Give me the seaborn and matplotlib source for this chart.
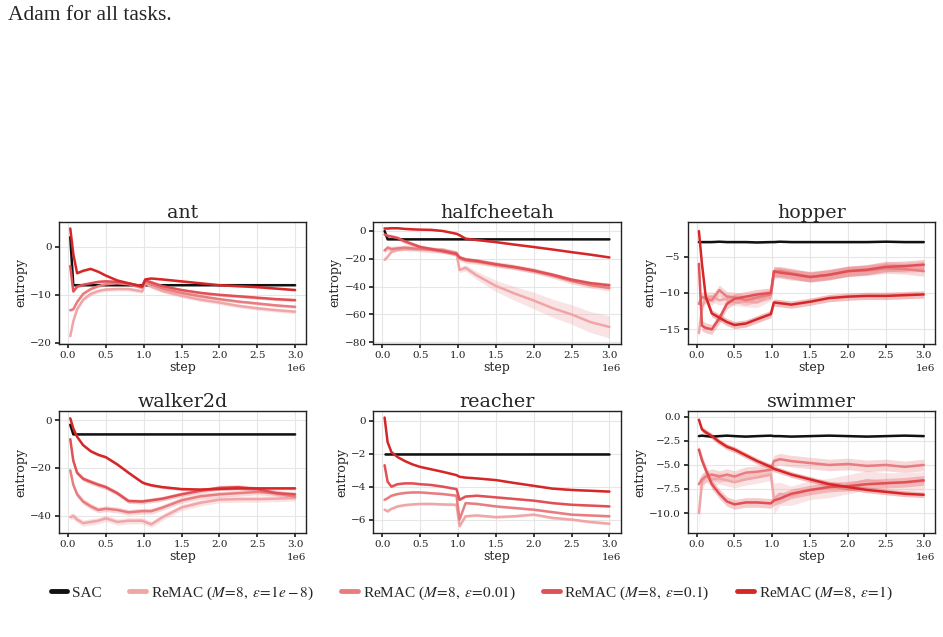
import pandas as pd
import matplotlib.pyplot as plt
import seaborn as sns
from matplotlib.lines import Line2D
from matplotlib.ticker import MultipleLocator

# ==========================================
# Data (steps in millions)
# ==========================================

steps_m = [0.03, 0.07, 0.12, 0.2, 0.3, 0.4, 0.5, 0.65, 0.8, 0.98,
           1.02, 1.1, 1.25, 1.5, 1.75, 2.0, 2.25, 2.5, 2.75, 3.0]

tasks = ["ant", "halfcheetah", "hopper", "walker2d", "reacher", "swimmer"]

methods = ["SAC", "eps=1e-8", "eps=0.01", "eps=0.1", "eps=1"]

legend_labels = [
    "SAC",
    r"ReMAC ($M\!=\!8,\ \varepsilon\!=\!1e-8$)",
    r"ReMAC ($M\!=\!8,\ \varepsilon\!=\!0.01$)",
    r"ReMAC ($M\!=\!8,\ \varepsilon\!=\!0.1$)",
    r"ReMAC ($M\!=\!8,\ \varepsilon\!=\!1$)",
]

# ant
ant_sac = [2.0, -8.0, -8.0, -8.0, -8.0, -8.0, -8.0, -8.0, -8.0, -8.0,
           -8.0, -8.0, -8.0, -8.0, -8.0, -8.0, -8.0, -8.0, -8.0, -8.0]
ant_e1e8 = [-18.6, -15.5, -13.0, -11.0, -9.8, -9.2, -8.9, -8.8, -8.8, -9.3,
            -7.6, -8.3, -9.2, -10.2, -11.0, -11.6, -12.3, -12.8, -13.2, -13.5]
ant_e001 = [-13.2, -13.0, -11.5, -9.8, -8.8, -8.2, -7.8, -7.6, -7.8, -8.5,
            -7.3, -7.8, -8.7, -9.6, -10.3, -10.9, -11.4, -11.8, -12.2, -12.5]
ant_e01 = [-4.0, -9.3, -8.3, -7.9, -7.6, -7.3, -7.2, -7.3, -7.6, -8.2,
           -7.0, -7.4, -8.2, -9.0, -9.6, -10.0, -10.3, -10.6, -10.9, -11.1]
ant_e1 = [3.8, -1.5, -5.5, -5.0, -4.6, -5.2, -6.0, -7.0, -7.6, -8.3,
          -6.8, -6.6, -6.8, -7.2, -7.6, -8.0, -8.2, -8.4, -8.7, -9.0]

# halfcheetah
hc_sac = [0.0, -6.0, -6.0, -6.0, -6.0, -6.0, -6.0, -6.0, -6.0, -6.0,
          -6.0, -6.0, -6.0, -6.0, -6.0, -6.0, -6.0, -6.0, -6.0, -6.0]
hc_e1e8 = [-20.7, -18.5, -15.0, -13.5, -13.0, -13.0, -13.0, -13.0, -13.5, -16.0,
           -28.0, -26.5, -32.0, -39.5, -45.0, -50.0, -55.5, -60.0, -65.5, -69.0]
hc_e001 = [-14.0, -12.0, -13.0, -12.5, -12.0, -12.5, -13.0, -13.5, -14.0, -16.0,
           -19.5, -21.0, -22.0, -24.0, -26.0, -28.5, -32.0, -36.0, -39.0, -41.0]
hc_e01 = [-2.5, -3.5, -4.0, -5.0, -7.5, -9.5, -11.5, -13.0, -14.5, -16.5,
          -19.0, -20.5, -21.5, -24.0, -26.0, -28.5, -31.5, -35.0, -37.5, -39.0]
hc_e1 = [1.8, 1.8, 2.0, 2.0, 1.5, 1.2, 1.0, 0.8, 0.0, -2.0,
         -3.0, -5.5, -6.5, -8.0, -9.8, -11.5, -13.3, -15.2, -17.0, -19.0]

# hopper
hop_sac = [-3.0, -3.0, -3.0, -3.0, -2.95, -3.0, -3.0, -3.0, -3.05, -3.0,
           -3.0, -2.95, -3.0, -3.0, -3.0, -3.0, -3.0, -2.95, -3.0, -3.0]
hop_e1e8 = [-15.5, -12.0, -10.6, -10.5, -11.0, -10.8, -11.0, -11.2, -11.3, -10.4,
            -7.4, -7.2, -7.6, -7.7, -7.4, -7.1, -6.8, -6.3, -6.5, -6.3]
hop_e001 = [-11.5, -10.5, -10.8, -11.0, -9.6, -10.5, -10.6, -11.0, -10.6, -10.2,
            -7.2, -7.0, -7.3, -7.8, -7.5, -7.0, -6.9, -6.6, -6.7, -7.0]
hop_e01 = [-6.0, -14.5, -14.8, -15.0, -13.5, -11.5, -10.8, -10.5, -10.2, -10.0,
           -7.0, -7.2, -7.4, -7.8, -7.5, -7.0, -6.8, -6.4, -6.3, -6.1]
hop_e1 = [-1.5, -6.0, -10.5, -12.8, -13.4, -14.0, -14.4, -14.2, -13.6, -12.9,
          -11.3, -11.4, -11.6, -11.2, -10.7, -10.5, -10.4, -10.4, -10.3, -10.2]

# walker2d
wk_sac = [-2.0, -6.0, -6.0, -6.0, -6.0, -6.0, -6.0, -6.0, -6.0, -6.0,
          -6.0, -6.0, -6.0, -6.0, -6.0, -6.0, -6.0, -6.0, -6.0, -6.0]
wk_e1e8 = [-40.5, -40.0, -41.5, -43.0, -42.5, -42.0, -41.0, -42.5, -42.0, -42.0,
           -42.5, -43.5, -40.5, -36.5, -34.5, -33.2, -33.0, -33.0, -32.8, -32.5]
wk_e001 = [-21.0, -27.0, -31.0, -34.0, -36.0, -37.5, -37.0, -37.5, -38.5, -38.0,
           -38.0, -38.0, -36.5, -33.5, -31.8, -31.0, -30.5, -30.0, -30.5, -32.0]
wk_e01 = [-8.0, -17.0, -22.0, -24.5, -25.8, -27.0, -28.0, -30.5, -33.8, -34.0,
          -33.8, -33.5, -32.8, -31.0, -29.5, -28.3, -28.0, -28.8, -30.5, -31.0]
wk_e1 = [0.7, -3.5, -7.0, -10.5, -13.0, -14.5, -15.5, -18.5, -22.0, -26.0,
         -26.5, -27.2, -28.0, -28.8, -29.0, -28.7, -28.5, -28.5, -28.5, -28.5]

# reacher
re_sac = [-2.0, -2.0, -2.0, -2.0, -2.0, -2.0, -2.0, -2.0, -2.0, -2.0,
          -2.0, -2.0, -2.0, -2.0, -2.0, -2.0, -2.0, -2.0, -2.0, -2.0]
re_e1e8 = [-5.4, -5.5, -5.35, -5.2, -5.12, -5.08, -5.05, -5.05, -5.08, -5.1,
           -6.4, -5.8, -5.75, -5.85, -5.8, -5.7, -5.9, -6.0, -6.15, -6.25]
re_e001 = [-4.8, -4.7, -4.55, -4.45, -4.38, -4.35, -4.35, -4.4, -4.45, -4.55,
           -6.0, -5.0, -5.05, -5.2, -5.3, -5.4, -5.55, -5.7, -5.75, -5.8]
re_e01 = [-2.7, -3.7, -4.0, -3.85, -3.8, -3.8, -3.85, -3.9, -4.0, -4.15,
          -4.8, -4.6, -4.55, -4.65, -4.75, -4.85, -5.0, -5.1, -5.15, -5.2]
re_e1 = [0.2, -1.3, -1.9, -2.2, -2.45, -2.65, -2.8, -2.95, -3.1, -3.3,
         -3.4, -3.45, -3.5, -3.6, -3.78, -3.95, -4.12, -4.2, -4.25, -4.3]

# swimmer
sw_sac = [-2.0, -1.95, -2.0, -2.05, -2.0, -1.95, -2.0, -2.05, -2.0, -1.95,
          -2.0, -2.0, -2.05, -2.0, -1.95, -2.0, -2.05, -2.0, -1.95, -2.0]
sw_e1e8 = [-10.0, -6.8, -6.2, -6.5, -6.4, -6.6, -6.8, -6.5, -6.3, -6.0,
           -8.5, -8.0, -8.2, -7.6, -7.4, -7.0, -6.6, -6.8, -6.8, -6.7]
sw_e001 = [-7.0, -6.5, -6.2, -6.0, -6.2, -6.0, -6.2, -5.8, -5.7, -5.5,
           -4.6, -4.4, -4.6, -4.8, -5.0, -4.9, -5.1, -5.0, -5.2, -5.0]
sw_e01 = [-3.4, -4.5, -5.5, -7.0, -8.0, -8.8, -9.1, -8.9, -8.9, -9.0,
          -8.7, -8.5, -8.0, -7.6, -7.3, -7.2, -7.0, -6.9, -6.8, -6.6]
sw_e1 = [-0.3, -1.3, -1.6, -2.0, -2.6, -3.1, -3.4, -4.0, -4.6, -5.2,
         -5.4, -5.6, -6.0, -6.5, -7.0, -7.3, -7.6, -7.8, -8.0, -8.1]

# half-width of the shaded bands (SAC, 1e-8, 0.01, 0.1, 1);
# a list means the width changes along the run
hc_e1e8_band = [1.0, 1.0, 1.0, 1.0, 1.0, 1.0, 1.0, 1.2, 1.5, 1.8,
                2.0, 2.2, 3.0, 4.0, 5.0, 6.0, 6.5, 7.0, 7.5, 8.0]
sw_e1e8_band = [1.5, 0.8, 0.6, 0.6, 0.6, 0.6, 0.6, 0.6, 0.6, 0.6,
                1.6, 1.2, 1.0, 1.0, 1.0, 1.0, 1.0, 1.0, 1.0, 1.0]

ant_band = [0.1, 0.4, 0.3, 0.3, 0.2]
hc_band = [0.3, hc_e1e8_band, 2.0, 1.5, 0.5]
hop_band = [0.1, 0.7, 0.7, 0.7, 0.5]
wk_band = [0.2, 1.3, 1.2, 1.0, 0.6]
re_band = [0.02, 0.08, 0.06, 0.05, 0.04]
sw_band = [0.05, sw_e1e8_band, 0.6, 0.5, 0.3]

task_series = {
    "ant": [ant_sac, ant_e1e8, ant_e001, ant_e01, ant_e1],
    "halfcheetah": [hc_sac, hc_e1e8, hc_e001, hc_e01, hc_e1],
    "hopper": [hop_sac, hop_e1e8, hop_e001, hop_e01, hop_e1],
    "walker2d": [wk_sac, wk_e1e8, wk_e001, wk_e01, wk_e1],
    "reacher": [re_sac, re_e1e8, re_e001, re_e01, re_e1],
    "swimmer": [sw_sac, sw_e1e8, sw_e001, sw_e01, sw_e1],
}
task_band = {
    "ant": ant_band, "halfcheetah": hc_band, "hopper": hop_band,
    "walker2d": wk_band, "reacher": re_band, "swimmer": sw_band,
}
ytick_step = {
    "ant": 10, "halfcheetah": 20, "hopper": 5,
    "walker2d": 20, "reacher": 2, "swimmer": 2.5,
}

colors = ["#111111", "#f0a5a7", "#e87d80", "#e05055", "#d62728"]

# ==========================================
# Long-format table
# ==========================================

rows = []
for task in tasks:
    for method, series, band in zip(methods, task_series[task], task_band[task]):
        widths = band if isinstance(band, list) else [band] * len(series)
        for s, v, w in zip(steps_m, series, widths):
            rows.append({"task": task, "method": method, "step": s * 1e6,
                         "entropy": v, "band": w})
df = pd.DataFrame(rows)

# ==========================================
# Style
# ==========================================

sns.set_theme(style="whitegrid")
plt.rcParams["font.family"] = ["DejaVu Serif"]
plt.rcParams["mathtext.fontset"] = "stix"
plt.rcParams.update({
    "axes.edgecolor": "#222222",
    "axes.linewidth": 1.0,
    "grid.color": "#e6e6e6",
    "grid.linewidth": 0.8,
    "xtick.bottom": True,
    "ytick.left": True,
    "xtick.major.size": 3,
    "ytick.major.size": 3,
    "xtick.labelsize": 7.5,
    "ytick.labelsize": 7.5,
    "xtick.color": "#222222",
    "ytick.color": "#222222",
})

# ==========================================
# Plot
# ==========================================

fig, axes = plt.subplots(2, 3, figsize=(9.43, 6.37), dpi=100)
fig.subplots_adjust(left=0.0626, right=0.9915, top=0.6515, bottom=0.1633,
                    wspace=0.271, hspace=0.557)

for ax, task in zip(axes.flat, tasks):
    sub = df[df["task"] == task]
    sns.lineplot(
        data=sub, x="step", y="entropy",
        hue="method", hue_order=methods, palette=colors,
        linewidth=1.8, errorbar=None, legend=False, ax=ax,
    )
    for method, c in zip(methods, colors):
        m = sub[sub["method"] == method]
        ax.fill_between(m["step"], m["entropy"] - m["band"],
                        m["entropy"] + m["band"],
                        color=c, alpha=0.3, lw=0, zorder=1)
    ax.set_title(task, fontsize=13.7, pad=3)
    ax.set_xlabel("step", fontsize=9, labelpad=1)
    ax.set_ylabel("entropy", fontsize=9, labelpad=2)
    ax.yaxis.set_major_locator(MultipleLocator(ytick_step[task]))
    ax.xaxis.set_major_locator(MultipleLocator(0.5e6))
    ax.xaxis.get_offset_text().set_fontsize(7.5)
    ax.tick_params(pad=2)
    for sp in ax.spines.values():
        sp.set_color("#222222")

handles = [Line2D([0], [0], color=c, lw=3.5) for c in colors]
fig.legend(
    handles, legend_labels,
    loc="center", bbox_to_anchor=(0.5, 0.069), ncol=5, frameon=False,
    prop={"family": "Liberation Serif", "size": 11},
    handlelength=1.1, handletextpad=0.3, columnspacing=1.8,
)

fig.text(8 / 943, 1 - 20 / 637, "Adam for all tasks.",
         family="Liberation Serif", fontsize=15.5, va="baseline")

# ==========================================
# Save
# ==========================================

fig.savefig("out.png", dpi=100)
